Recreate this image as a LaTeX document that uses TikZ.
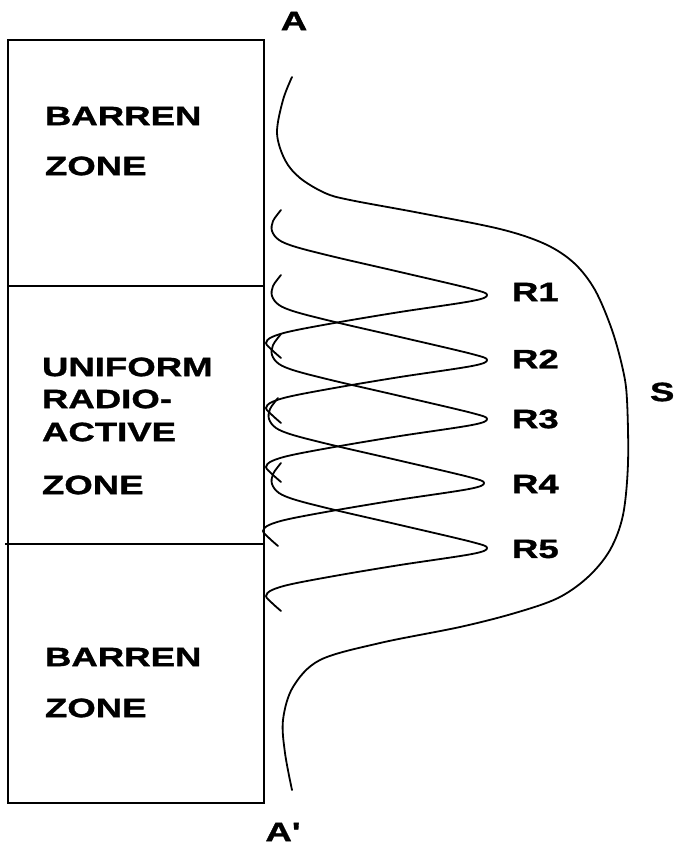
\documentclass[tikz,border=0pt]{standalone}
\usepackage{fontspec}
\newfontfamily\lblfont{Liberation Sans}[FakeStretch=1.38, BoldFeatures={FakeBold=1.3}]
\tikzset{
  curve/.style={line width=1.8pt, line cap=round, line join=round},
  boxline/.style={line width=1.5pt},
  lbl/.style={inner sep=0pt, outer sep=0pt, font=\lblfont\bfseries\fontsize{26.5}{30}\selectfont},
  rcurve/.pic={\draw[curve] plot[smooth,tension=0.55] coordinates {(281,-85) (273,-74) (272,-64) (279,-55) (296,-48) (335,-38) (400,-23) (472,-6) (487,0) (472,6) (400,17) (340,27) (292,36) (272,42) (266,48) (272,55) (281,63)};}
}
\begin{document}
\begin{tikzpicture}[x=1pt,y=-1pt]
\useasboundingbox (0,0) rectangle (675,849);
% box
\draw[boxline] (8,40) rectangle (264,803);
\draw[boxline] (8,286) -- (264,286);
\draw[boxline] (5,544) -- (264,544);
% zone labels
\node[lbl,anchor=west] (b1) at (45,116) {BARREN};
\node[lbl,anchor=west] (z1) at (45,166) {ZONE};
\node[lbl,anchor=west] (u1) at (42,367) {UNIFORM};
\node[lbl,anchor=west] (u2) at (42,399) {RADIO-};
\node[lbl,anchor=west] (u3) at (42,432) {ACTIVE};
\node[lbl,anchor=west] (u4) at (42,485) {ZONE};
\node[lbl,anchor=west] (b2) at (45,657) {BARREN};
\node[lbl,anchor=west] (z2) at (45,708) {ZONE};
% A labels
\node[lbl] (A) at (294,21) {A};
\node[lbl] (Ap) at (283,832) {A'};
% S curve
\draw[curve] plot[smooth,tension=0.55] coordinates {(292,77) (283,100) (277,133) (285,160) (300,178) (325,193) (350,200) (420,213) (500,229) (545,244) (574,263) (595,290) (612,330) (623,370) (627,400) (628,463) (623,515) (610,550) (588,577) (558,598) (515,613) (460,627) (380,643) (320,660) (293,687) (283,720) (285,753) (292,790)};
\node[lbl,anchor=west] (S) at (650,392) {S};
% R curves
\pic at (0,295) {rcurve};
\pic at (0,360) {rcurve};
\pic at (0,419) {rcurve};
\pic at (-3,483) {rcurve};
\pic at (0,548) {rcurve};
\node[lbl,anchor=west] (R1) at (512,292) {R1};
\node[lbl,anchor=west] (R2) at (512,359) {R2};
\node[lbl,anchor=west] (R3) at (512,419) {R3};
\node[lbl,anchor=west] (R4) at (512,484) {R4};
\node[lbl,anchor=west] (R5) at (512,549) {R5};
\end{tikzpicture}
\end{document}
